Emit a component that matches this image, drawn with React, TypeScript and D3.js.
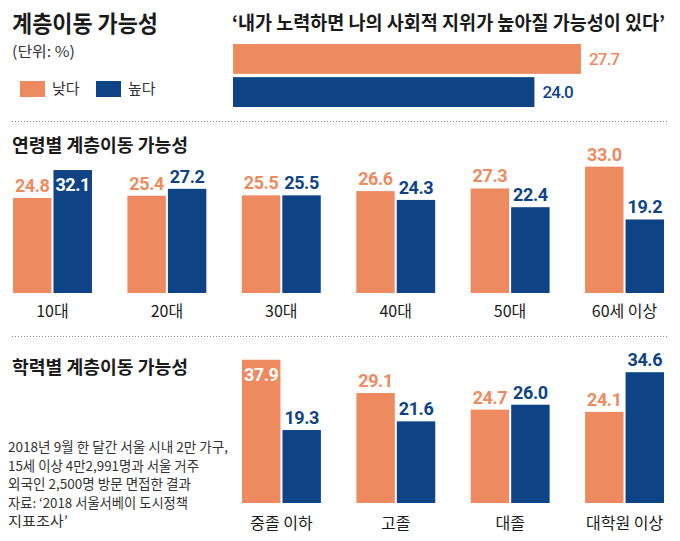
import React from "react";
import * as d3 from "d3";

// ---------- data ----------
const seriesNames = ["낮다", "높다"];
const overallValues = [27.7, 24.0];

const ageCategories = ["10대", "20대", "30대", "40대", "50대", "60세 이상"];
const ageLow = [24.8, 25.4, 25.5, 26.6, 27.3, 33.0];
const ageHigh = [32.1, 27.2, 25.5, 24.3, 22.4, 19.2];

const eduCategories = ["중졸 이하", "고졸", "대졸", "대학원 이상"];
const eduLow = [37.9, 29.1, 24.7, 24.1];
const eduHigh = [19.3, 21.6, 26.0, 34.6];

const mainTitle = "계층이동 가능성";
const unitText = "(단위: %)";
const subTitle = "‘내가 노력하면 나의 사회적 지위가 높아질 가능성이 있다’";
const ageTitle = "연령별 계층이동 가능성";
const eduTitle = "학력별 계층이동 가능성";
const footnoteLines = [
  "2018년 9월 한 달간 서울 시내 2만 가구,",
  "15세 이상 4만2,991명과 서울 거주",
  "외국인 2,500명 방문 면접한 결과",
  "자료: ‘2018 서울서베이 도시정책",
  "지표조사’",
];
// labels drawn inside the top of their bar
const insideLabels = new Set(["10대|높다", "중졸 이하|낮다"]);

// ---------- style ----------
const ORANGE = "#EE8A5F";
const BLUE = "#0E4386";
const INK = "#1a1a1a";
const KR = "'Noto Sans CJK KR', 'Noto Sans', sans-serif";
const NUM = "Roboto, 'Noto Sans', sans-serif";
const colors = [ORANGE, BLUE];

type GBProps = {
  categories: string[];
  low: number[];
  high: number[];
  x0: number;
  x1: number;
  y0: number;
  pxPerUnit: number;
  catLabelY: number;
};

function GroupedBars({ categories, low, high, x0, x1, y0, pxPerUnit, catLabelY }: GBProps) {
  const xOuter = d3.scaleBand<string>().domain(categories).range([x0, x1]).paddingInner(0.31);
  const xInner = d3
    .scaleBand<string>()
    .domain(seriesNames)
    .range([0, xOuter.bandwidth()])
    .paddingInner(0.05);
  const y = d3.scaleLinear().domain([0, 40]).range([y0, y0 - 40 * pxPerUnit]);
  const series = [low, high];
  return (
    <g>
      {categories.map((c, i) => (
        <g key={c}>
          {seriesNames.map((s, si) => {
            const v = series[si][i];
            const bx = (xOuter(c) as number) + (xInner(s) as number);
            const bw = xInner.bandwidth();
            const top = y(v);
            const inside = insideLabels.has(`${c}|${s}`);
            return (
              <g key={s}>
                <rect x={bx} y={top} width={bw} height={y(0) - top} fill={colors[si]} />
                <text
                  x={bx + bw / 2}
                  y={inside ? top + 21 : top - 6}
                  textAnchor="middle"
                  fontFamily={NUM}
                  fontWeight={700}
                  fontSize={18}
                  letterSpacing={-0.4}
                  fill={inside ? "#fff" : colors[si]}
                >
                  {d3.format(".1f")(v)}
                </text>
              </g>
            );
          })}
          <text
            x={(xOuter(c) as number) + xOuter.bandwidth() / 2}
            y={catLabelY}
            textAnchor="middle"
            fontFamily={KR}
            fontSize={16}
            fill={INK}
          >
            {c}
          </text>
        </g>
      ))}
    </g>
  );
}

export default function App() {
  const xTop = d3.scaleLinear().domain([0, 30]).range([233, 233 + 30 * 12.56]);
  const yTop = d3.scaleBand<string>().domain(seriesNames).range([44, 107]).paddingInner(0.1);
  const footWidths = [220, 191, 183, 180, 60];

  return (
    <svg
      width={680}
      height={541}
      style={{ position: "absolute", left: 0, top: 0, background: "#fff" }}
    >
      <rect width={680} height={541} fill="#fff" />

      {/* header */}
      <text x={12} y={32} fontFamily={KR} fontWeight={700} fontSize={23} fill={INK}
        textLength={146} lengthAdjust="spacingAndGlyphs">
        {mainTitle}
      </text>
      <text x={12} y={57} fontFamily={KR} fontSize={15} fill="#333"
        textLength={63} lengthAdjust="spacingAndGlyphs">
        {unitText}
      </text>

      {/* legend */}
      {seriesNames.map((s, i) => (
        <g key={s} transform={`translate(${20 + i * 76},0)`}>
          <rect x={0} y={81} width={25} height={16} fill={colors[i]} />
          <text x={32} y={94} fontFamily={KR} fontSize={15} fill="#333">
            {s}
          </text>
        </g>
      ))}

      {/* overall bars */}
      <text x={232} y={30} fontFamily={KR} fontWeight={700} fontSize={19} fill={INK}
        textLength={433} lengthAdjust="spacingAndGlyphs">
        {subTitle}
      </text>
      {seriesNames.map((s, i) => {
        const v = overallValues[i];
        const by = yTop(s) as number;
        return (
          <g key={s}>
            <rect x={xTop(0)} y={by} width={xTop(v) - xTop(0)} height={yTop.bandwidth()} fill={colors[i]} />
            <text x={xTop(v) + 8} y={by + yTop.bandwidth() / 2 + 6} fontFamily={NUM}
              fontWeight={500} fontSize={17} letterSpacing={-0.8} fill={colors[i]}>
              {d3.format(".1f")(v)}
            </text>
          </g>
        );
      })}

      {/* separators */}
      <line x1={12} x2={668} y1={121.5} y2={121.5} stroke="#888" strokeWidth={1} strokeDasharray="1 2" />
      <line x1={12} x2={668} y1={336.5} y2={336.5} stroke="#888" strokeWidth={1} strokeDasharray="1 2" />

      {/* age section */}
      <text x={12} y={152} fontFamily={KR} fontWeight={700} fontSize={18} fill={INK}
        textLength={176} lengthAdjust="spacingAndGlyphs">
        {ageTitle}
      </text>
      <GroupedBars
        categories={ageCategories}
        low={ageLow}
        high={ageHigh}
        x0={13}
        x1={664}
        y0={293}
        pxPerUnit={3.83}
        catLabelY={317}
      />

      {/* education section */}
      <text x={12} y={374} fontFamily={KR} fontWeight={700} fontSize={18} fill={INK}
        textLength={176} lengthAdjust="spacingAndGlyphs">
        {eduTitle}
      </text>
      <GroupedBars
        categories={eduCategories}
        low={eduLow}
        high={eduHigh}
        x0={242}
        x1={664}
        y0={503}
        pxPerUnit={3.78}
        catLabelY={529}
      />

      {/* footnote */}
      {footnoteLines.map((l, i) => (
        <text key={i} x={8} y={452 + i * 18.5} fontFamily={KR} fontSize={13.5} fill="#333"
          textLength={footWidths[i]} lengthAdjust="spacingAndGlyphs">
          {l}
        </text>
      ))}
    </svg>
  );
}
